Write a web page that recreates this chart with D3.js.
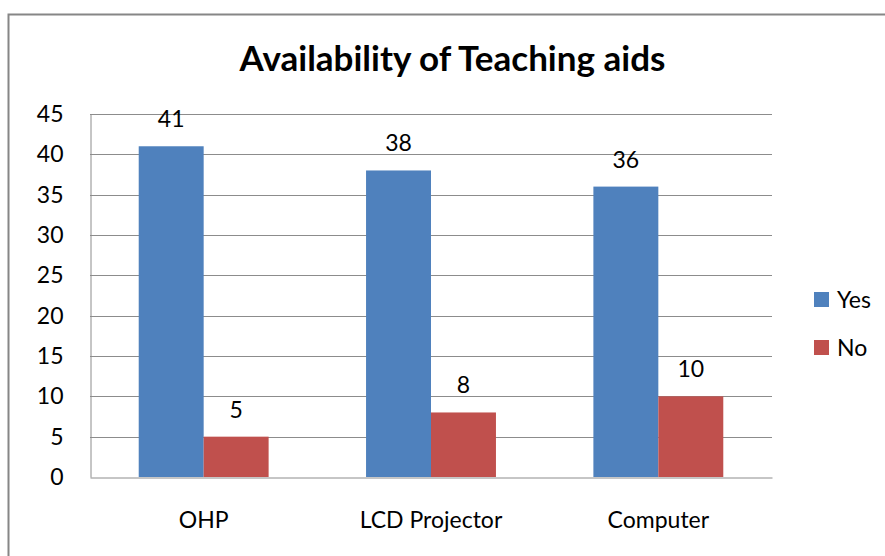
<!DOCTYPE html>
<html><head><meta charset="utf-8">
<script src="https://cdn.jsdelivr.net/npm/d3@7"></script>
<style>body{margin:0;background:#fff}svg{display:block}</style>
</head><body><svg id="c" width="885" height="556"></svg>
<script>
const categories = ["OHP", "LCD Projector", "Computer"];
const seriesNames = ["Yes", "No"];
const yesValues = [41, 38, 36];
const noValues = [5, 8, 10];
const yTicks = [0, 5, 10, 15, 20, 25, 30, 35, 40, 45];
const colors = ["#4F81BD", "#C0504D"];
const title = "Availability of Teaching aids";

const font = "Lato, 'Open Sans', sans-serif";
const fs = 23;
const svg = d3.select("#c");
const W = 885, H = 556;
const m = {left: 90, right: 772, top: 114, bottom: 477};

svg.append("rect").attr("x", 8.5).attr("y", 14.5).attr("width", W + 10).attr("height", H + 10)
  .attr("fill", "#fff").attr("stroke", "#868686").attr("stroke-width", 2);

const x0 = d3.scaleBand().domain(categories).range([m.left, m.right]).padding(0);
const band = x0.bandwidth();
const gap = 1.5; // Excel gap width 150%
const barW = band / (2 + gap);
const x1 = d3.scaleBand().domain(seriesNames)
  .range([barW * gap / 2, barW * gap / 2 + 2 * barW]).padding(0);
const y = d3.scaleLinear().domain([0, 45]).range([m.bottom, m.top]);

// gridlines
svg.append("g").selectAll("line").data(yTicks.filter(t => t > 0)).join("line")
  .attr("x1", m.left).attr("x2", m.right)
  .attr("y1", d => Math.round(y(d)) + 0.5).attr("y2", d => Math.round(y(d)) + 0.5)
  .attr("stroke", "#8c8c8c").attr("stroke-width", 1);

// y axis
const yAxis = d3.axisLeft(y).tickValues(yTicks).tickSize(0).tickPadding(27);
const gy = svg.append("g").attr("transform", `translate(${m.left + 0.5},0)`).call(yAxis);
gy.select(".domain").attr("stroke", "#8c8c8c");
gy.selectAll("text").attr("font-family", font).attr("font-size", fs).attr("fill", "#000");

// bars
const data = categories.map((c, i) => ({cat: c, vals: [yesValues[i], noValues[i]]}));
const gCat = svg.append("g").selectAll("g").data(data).join("g")
  .attr("transform", d => `translate(${x0(d.cat)},0)`);
gCat.selectAll("rect").data(d => d.vals.map((v, j) => ({s: seriesNames[j], v, j}))).join("rect")
  .attr("x", d => x1(d.s)).attr("width", x1.bandwidth())
  .attr("y", d => y(d.v)).attr("height", d => y(0) - y(d.v))
  .attr("fill", d => colors[d.j]);
gCat.selectAll("text").data(d => d.vals.map((v, j) => ({s: seriesNames[j], v, j}))).join("text")
  .attr("x", d => x1(d.s) + x1.bandwidth() / 2).attr("y", d => y(d.v) - 19)
  .attr("text-anchor", "middle").attr("font-family", font).attr("font-size", fs).attr("fill", "#000")
  .text(d => d.v);

// x axis
const xAxis = d3.axisBottom(x0).tickSize(0).tickPadding(34);
const gx = svg.append("g").attr("transform", `translate(0,${m.bottom + 0.5})`).call(xAxis);
gx.select(".domain").attr("stroke", "#8c8c8c");
gx.selectAll("text").attr("font-family", font).attr("font-size", fs).attr("fill", "#000");

// title
svg.append("text").attr("x", 452.5).attr("y", 71).attr("text-anchor", "middle")
  .attr("font-family", font).attr("font-weight", "bold").attr("font-size", 35).attr("fill", "#000")
  .text(title);

// legend
const lg = svg.append("g").selectAll("g").data(seriesNames).join("g")
  .attr("transform", (d, i) => `translate(814,${292 + i * 48})`);
lg.append("rect").attr("width", 15).attr("height", 15).attr("fill", (d, i) => colors[i]);
lg.append("text").attr("x", 23).attr("y", 16).attr("font-family", font).attr("font-size", fs)
  .attr("fill", "#000").text(d => d);
</script></body></html>
